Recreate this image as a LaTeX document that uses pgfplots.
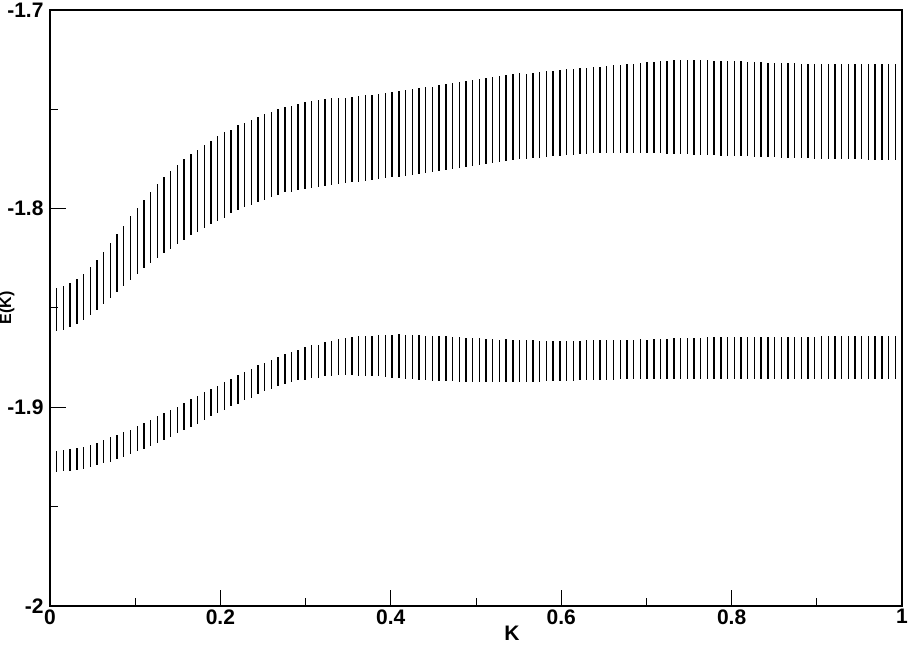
\documentclass[border=0pt]{standalone}
\usepackage{pgfplots}
\usepackage{pgfplotstable}
\pgfplotsset{compat=1.18}
\usepackage{fontspec}
\setmainfont{Liberation Sans}

\pgfplotstableread{
x lo hi
0.0079 -1.8617 -1.8399
0.0157 -1.8612 -1.8389
0.0236 -1.8597 -1.8375
0.0315 -1.8582 -1.8353
0.0394 -1.8562 -1.8327
0.0472 -1.8537 -1.8295
0.0551 -1.8508 -1.8259
0.0630 -1.8481 -1.8217
0.0709 -1.8451 -1.8174
0.0787 -1.8421 -1.8130
0.0866 -1.8389 -1.8085
0.0945 -1.8357 -1.8039
0.1024 -1.8328 -1.7996
0.1102 -1.8300 -1.7954
0.1181 -1.8275 -1.7914
0.1260 -1.8248 -1.7875
0.1339 -1.8223 -1.7841
0.1417 -1.8201 -1.7808
0.1496 -1.8179 -1.7778
0.1575 -1.8159 -1.7751
0.1654 -1.8135 -1.7727
0.1732 -1.8115 -1.7705
0.1811 -1.8095 -1.7680
0.1890 -1.8078 -1.7657
0.1969 -1.8060 -1.7635
0.2047 -1.8045 -1.7616
0.2126 -1.8024 -1.7603
0.2205 -1.8009 -1.7579
0.2283 -1.7994 -1.7568
0.2362 -1.7981 -1.7552
0.2441 -1.7967 -1.7539
0.2520 -1.7954 -1.7524
0.2598 -1.7942 -1.7514
0.2677 -1.7930 -1.7500
0.2756 -1.7917 -1.7489
0.2835 -1.7915 -1.7482
0.2913 -1.7907 -1.7475
0.2992 -1.7902 -1.7465
0.3071 -1.7895 -1.7458
0.3150 -1.7890 -1.7453
0.3228 -1.7885 -1.7448
0.3307 -1.7882 -1.7445
0.3386 -1.7878 -1.7442
0.3465 -1.7873 -1.7442
0.3543 -1.7868 -1.7438
0.3622 -1.7865 -1.7433
0.3701 -1.7862 -1.7430
0.3780 -1.7858 -1.7427
0.3858 -1.7853 -1.7422
0.3937 -1.7848 -1.7418
0.4016 -1.7843 -1.7413
0.4094 -1.7840 -1.7410
0.4173 -1.7835 -1.7405
0.4252 -1.7830 -1.7400
0.4331 -1.7825 -1.7395
0.4409 -1.7820 -1.7390
0.4488 -1.7816 -1.7388
0.4567 -1.7811 -1.7380
0.4646 -1.7806 -1.7375
0.4724 -1.7801 -1.7369
0.4803 -1.7794 -1.7364
0.4882 -1.7789 -1.7359
0.4961 -1.7784 -1.7354
0.5039 -1.7779 -1.7349
0.5118 -1.7774 -1.7344
0.5197 -1.7769 -1.7336
0.5276 -1.7764 -1.7331
0.5354 -1.7759 -1.7328
0.5433 -1.7754 -1.7322
0.5512 -1.7752 -1.7319
0.5591 -1.7749 -1.7321
0.5669 -1.7747 -1.7317
0.5748 -1.7744 -1.7311
0.5827 -1.7740 -1.7309
0.5906 -1.7737 -1.7306
0.5984 -1.7734 -1.7302
0.6063 -1.7730 -1.7299
0.6142 -1.7729 -1.7297
0.6220 -1.7727 -1.7294
0.6299 -1.7724 -1.7292
0.6378 -1.7720 -1.7289
0.6457 -1.7721 -1.7285
0.6535 -1.7720 -1.7284
0.6614 -1.7720 -1.7279
0.6693 -1.7719 -1.7275
0.6772 -1.7719 -1.7270
0.6850 -1.7719 -1.7270
0.6929 -1.7719 -1.7267
0.7008 -1.7720 -1.7264
0.7087 -1.7720 -1.7264
0.7165 -1.7722 -1.7259
0.7244 -1.7724 -1.7257
0.7323 -1.7725 -1.7254
0.7402 -1.7725 -1.7254
0.7480 -1.7727 -1.7254
0.7559 -1.7729 -1.7250
0.7638 -1.7729 -1.7254
0.7717 -1.7730 -1.7254
0.7795 -1.7732 -1.7255
0.7874 -1.7734 -1.7255
0.7953 -1.7735 -1.7257
0.8031 -1.7735 -1.7259
0.8110 -1.7737 -1.7259
0.8189 -1.7737 -1.7262
0.8268 -1.7739 -1.7262
0.8346 -1.7741 -1.7264
0.8425 -1.7742 -1.7265
0.8504 -1.7742 -1.7265
0.8583 -1.7744 -1.7269
0.8661 -1.7746 -1.7269
0.8740 -1.7746 -1.7269
0.8819 -1.7747 -1.7270
0.8898 -1.7747 -1.7270
0.8976 -1.7749 -1.7270
0.9055 -1.7749 -1.7272
0.9134 -1.7751 -1.7272
0.9213 -1.7751 -1.7274
0.9291 -1.7751 -1.7270
0.9370 -1.7752 -1.7270
0.9449 -1.7752 -1.7270
0.9528 -1.7752 -1.7270
0.9606 -1.7754 -1.7272
0.9685 -1.7754 -1.7272
0.9764 -1.7754 -1.7272
0.9843 -1.7754 -1.7272
0.9921 -1.7754 -1.7272
}\upperband

\pgfplotstableread{
x lo hi
0.0079 -1.9326 -1.9220
0.0157 -1.9322 -1.9217
0.0236 -1.9319 -1.9212
0.0315 -1.9316 -1.9205
0.0394 -1.9309 -1.9198
0.0472 -1.9301 -1.9190
0.0551 -1.9292 -1.9178
0.0630 -1.9282 -1.9166
0.0709 -1.9274 -1.9151
0.0787 -1.9262 -1.9138
0.0866 -1.9250 -1.9126
0.0945 -1.9237 -1.9113
0.1024 -1.9222 -1.9092
0.1102 -1.9208 -1.9077
0.1181 -1.9195 -1.9062
0.1260 -1.9181 -1.9044
0.1339 -1.9166 -1.9027
0.1417 -1.9148 -1.9015
0.1496 -1.9129 -1.8998
0.1575 -1.9116 -1.8978
0.1654 -1.9099 -1.8960
0.1732 -1.9084 -1.8945
0.1811 -1.9065 -1.8924
0.1890 -1.9045 -1.8906
0.1969 -1.9029 -1.8891
0.2047 -1.9012 -1.8872
0.2126 -1.8995 -1.8857
0.2205 -1.8982 -1.8837
0.2283 -1.8965 -1.8820
0.2362 -1.8951 -1.8805
0.2441 -1.8935 -1.8788
0.2520 -1.8919 -1.8775
0.2598 -1.8908 -1.8762
0.2677 -1.8894 -1.8745
0.2756 -1.8881 -1.8731
0.2835 -1.8871 -1.8723
0.2913 -1.8864 -1.8713
0.2992 -1.8861 -1.8698
0.3071 -1.8854 -1.8688
0.3150 -1.8851 -1.8686
0.3228 -1.8844 -1.8673
0.3307 -1.8840 -1.8664
0.3386 -1.8839 -1.8656
0.3465 -1.8837 -1.8651
0.3543 -1.8839 -1.8646
0.3622 -1.8840 -1.8642
0.3701 -1.8840 -1.8641
0.3780 -1.8842 -1.8641
0.3858 -1.8844 -1.8637
0.3937 -1.8847 -1.8634
0.4016 -1.8851 -1.8636
0.4094 -1.8852 -1.8632
0.4173 -1.8856 -1.8634
0.4252 -1.8859 -1.8636
0.4331 -1.8861 -1.8636
0.4409 -1.8864 -1.8639
0.4488 -1.8866 -1.8641
0.4567 -1.8867 -1.8639
0.4646 -1.8869 -1.8642
0.4724 -1.8869 -1.8646
0.4803 -1.8871 -1.8647
0.4882 -1.8871 -1.8649
0.4961 -1.8872 -1.8651
0.5039 -1.8874 -1.8652
0.5118 -1.8874 -1.8656
0.5197 -1.8874 -1.8654
0.5276 -1.8874 -1.8659
0.5354 -1.8874 -1.8657
0.5433 -1.8872 -1.8659
0.5512 -1.8872 -1.8662
0.5591 -1.8872 -1.8662
0.5669 -1.8871 -1.8662
0.5748 -1.8871 -1.8664
0.5827 -1.8869 -1.8666
0.5906 -1.8869 -1.8666
0.5984 -1.8867 -1.8666
0.6063 -1.8867 -1.8664
0.6142 -1.8866 -1.8664
0.6220 -1.8864 -1.8664
0.6299 -1.8862 -1.8661
0.6378 -1.8862 -1.8662
0.6457 -1.8861 -1.8662
0.6535 -1.8861 -1.8661
0.6614 -1.8861 -1.8662
0.6693 -1.8859 -1.8659
0.6772 -1.8859 -1.8661
0.6850 -1.8859 -1.8661
0.6929 -1.8859 -1.8657
0.7008 -1.8857 -1.8659
0.7087 -1.8857 -1.8656
0.7165 -1.8857 -1.8654
0.7244 -1.8857 -1.8654
0.7323 -1.8857 -1.8651
0.7402 -1.8857 -1.8651
0.7480 -1.8857 -1.8651
0.7559 -1.8857 -1.8651
0.7638 -1.8857 -1.8651
0.7717 -1.8857 -1.8646
0.7795 -1.8857 -1.8646
0.7874 -1.8857 -1.8646
0.7953 -1.8857 -1.8646
0.8031 -1.8857 -1.8646
0.8110 -1.8857 -1.8646
0.8189 -1.8857 -1.8646
0.8268 -1.8857 -1.8646
0.8346 -1.8857 -1.8646
0.8425 -1.8857 -1.8646
0.8504 -1.8857 -1.8646
0.8583 -1.8857 -1.8646
0.8661 -1.8857 -1.8646
0.8740 -1.8857 -1.8646
0.8819 -1.8857 -1.8646
0.8898 -1.8857 -1.8646
0.8976 -1.8857 -1.8646
0.9055 -1.8857 -1.8641
0.9134 -1.8857 -1.8641
0.9213 -1.8857 -1.8641
0.9291 -1.8857 -1.8641
0.9370 -1.8857 -1.8641
0.9449 -1.8859 -1.8641
0.9528 -1.8859 -1.8641
0.9606 -1.8859 -1.8641
0.9685 -1.8859 -1.8641
0.9764 -1.8859 -1.8641
0.9843 -1.8859 -1.8641
0.9921 -1.8859 -1.8641
}\lowerband

\begin{document}
\begin{tikzpicture}
\begin{axis}[
  scale only axis,
  width=852pt, height=596pt,
  xmin=0, xmax=1, ymin=-2, ymax=-1.7,
  xtick={0,0.2,0.4,0.6,0.8,1},
  xticklabels={0,0.2,0.4,0.6,0.8,1},
  ytick={-2,-1.9,-1.8,-1.7},
  yticklabels={-2,-1.9,-1.8,-1.7},
  minor xtick={0.1,0.3,0.5,0.7,0.9},
  minor ytick={-1.95,-1.85,-1.75},
  xtick pos=bottom, ytick pos=left,
  tick align=inside,
  major tick length=16pt, minor tick length=8pt,
  every tick/.style={black, line width=1pt},
  axis line style={line width=1.3pt},
  tick label style={font=\fontsize{21}{21}\selectfont\bfseries},
  yticklabel style={xshift=-3pt},
  xlabel={K},
  xlabel style={font=\fontsize{21}{21}\selectfont\bfseries, at={(axis description cs:0.5,0)}, anchor=north, yshift=-17pt, xshift=36pt},
  ylabel={E(K)},
  ylabel style={font=\fontsize{16}{16}\selectfont\bfseries, at={(axis description cs:0,0.5)}, anchor=south, yshift=32pt},
  clip=true,
]
\addplot[draw=none, mark=none, forget plot,
  error bars/.cd, y dir=both, y explicit, error mark=none,
  error bar style={draw=black, solid, line width=1.4pt}]
  table[x=x, y expr={(\thisrow{lo}+\thisrow{hi})/2}, y error expr={(\thisrow{hi}-\thisrow{lo})/2}] {\upperband};
\addplot[draw=none, mark=none, forget plot,
  error bars/.cd, y dir=both, y explicit, error mark=none,
  error bar style={draw=black, solid, line width=1.4pt}]
  table[x=x, y expr={(\thisrow{lo}+\thisrow{hi})/2}, y error expr={(\thisrow{hi}-\thisrow{lo})/2}] {\lowerband};
\coordinate (SW) at (rel axis cs:0,0);
\coordinate (NE) at (rel axis cs:1,1);
\end{axis}
\pgfresetboundingbox
\path[use as bounding box] ([shift={(-50pt,-39pt)}]SW) rectangle ([shift={(7pt,10pt)}]NE);
\end{tikzpicture}
\end{document}
